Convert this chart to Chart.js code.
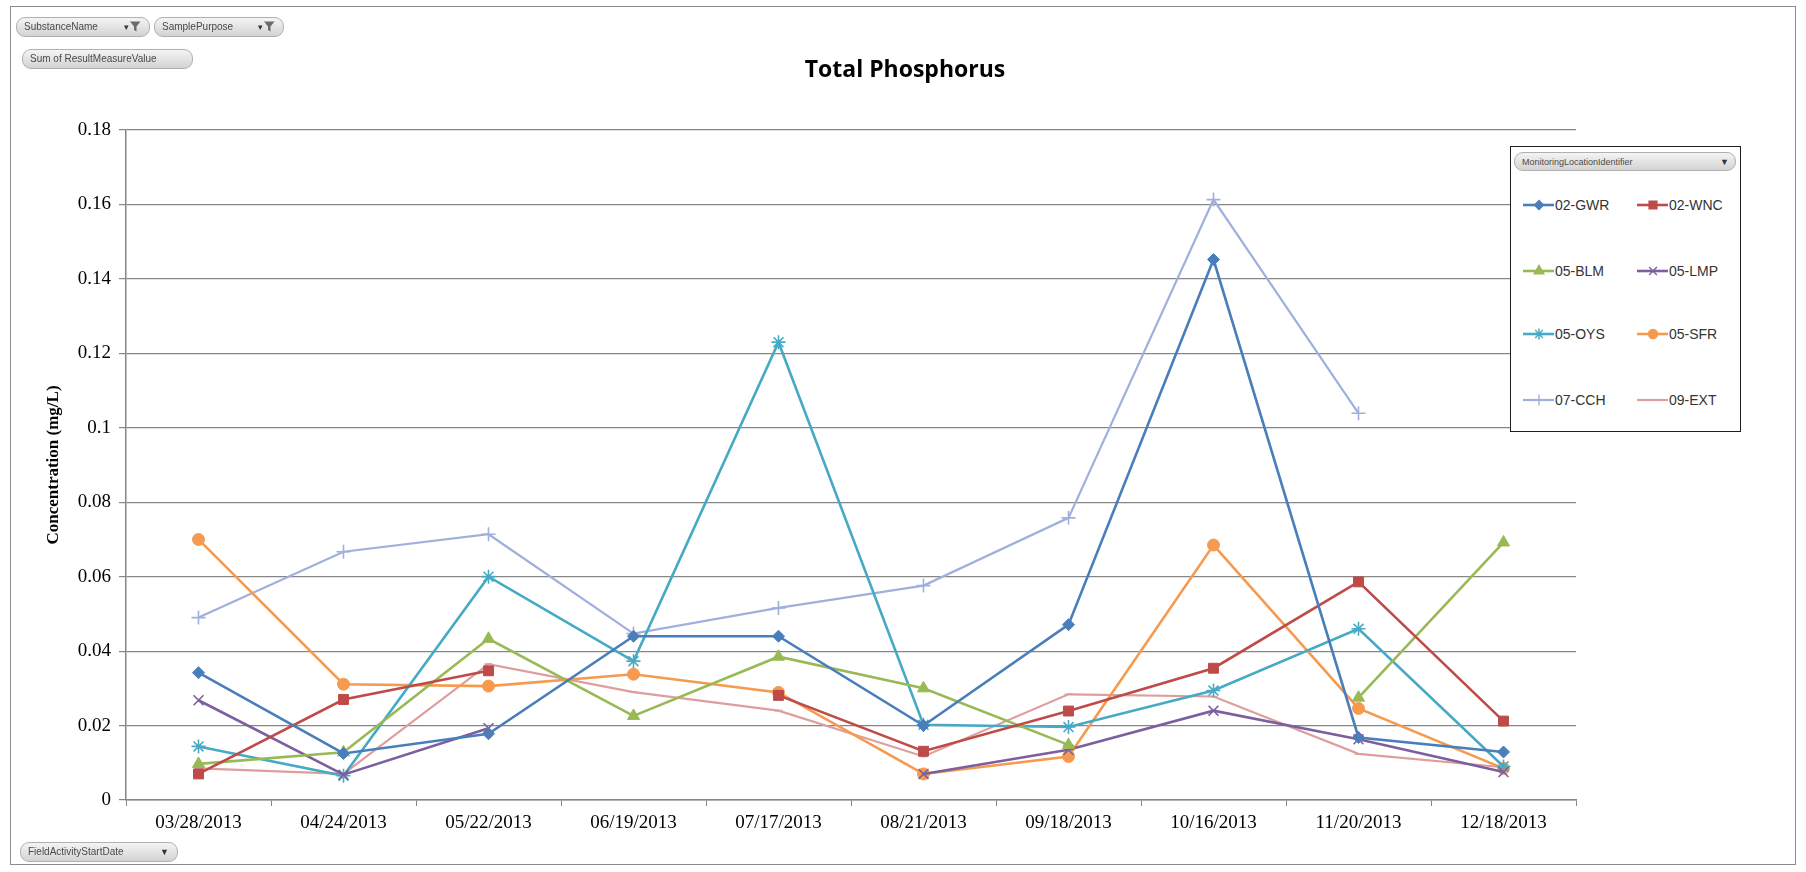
<!DOCTYPE html>
<html>
<head>
<meta charset="utf-8">
<title>Total Phosphorus</title>
<script src="https://cdn.jsdelivr.net/npm/chart.js@4.4.1/dist/chart.umd.min.js"></script>
<style>
  html, body { margin: 0; padding: 0; background: #fff; }
  #wrap { position: relative; width: 1806px; height: 872px; overflow: hidden; }
  #frame { position: absolute; left: 10px; top: 6px; width: 1786px; height: 859px; border: 1px solid #8c8c8c; box-sizing: border-box; }
  #chart { position: absolute; left: 0; top: 0; }
  .pill {
    position: absolute; height: 20px; box-sizing: border-box;
    border: 1px solid #b0b0b0; border-radius: 9px;
    background: linear-gradient(#f4f4f4, #d3d3d3);
    font: 10px "Liberation Sans", Arial, sans-serif; color: #4a4a4a;
    line-height: 18px; padding-left: 7px; white-space: nowrap;
  }
  .pill .ico { position: absolute; right: 8px; top: 3px; font-size: 9px; line-height: 12px; color: #333; }
  .pill svg { vertical-align: -2px; margin-left: 1px; }
  #title {
    position: absolute; left: 705px; width: 400px; top: 52px; text-align: center;
    font: bold 23px "Open Sans", "Noto Sans", sans-serif; color: #000;
  }
  #legend {
    position: absolute; left: 1510px; top: 146px; width: 231px; height: 286px;
    background: #fff; border: 1.5px solid #1e1e1e; box-sizing: border-box;
  }
  #legend .pill { left: 3px; top: 5px; width: 222px; height: 19px; font-size: 9px; }
  .item { position: absolute; height: 18px; font: 14px "Liberation Sans", Arial, sans-serif; color: #333; white-space: nowrap; }
  .item canvas { position: absolute; left: 0; top: 0; }
  .item span { position: absolute; left: 32px; top: 0; line-height: 18px; }
</style>
</head>
<body>
<div id="wrap">
  <div id="frame"></div>
  <canvas id="chart" width="1806" height="872"></canvas>
  <div class="pill" style="left:16px;top:17px;width:134px;">SubstanceName<span class="ico">▾<svg width="11" height="11" viewBox="0 0 11 11"><path d="M0 0.5 H10.5 L6.5 5.5 V10.5 L4 9 V5.5 Z" fill="#6b6b6b"/></svg></span></div>
  <div class="pill" style="left:154px;top:17px;width:130px;">SamplePurpose<span class="ico">▾<svg width="11" height="11" viewBox="0 0 11 11"><path d="M0 0.5 H10.5 L6.5 5.5 V10.5 L4 9 V5.5 Z" fill="#6b6b6b"/></svg></span></div>
  <div class="pill" style="left:22px;top:49px;width:171px;">Sum of ResultMeasureValue</div>
  <div class="pill" style="left:20px;top:842px;width:158px;">FieldActivityStartDate<span class="ico">▼</span></div>
  <div id="title">Total Phosphorus</div>
  <div id="legend">
    <div class="pill">MonitoringLocationIdentifier<span class="ico" style="right:6px">▼</span></div>
  </div>
</div>
<script>
const dates = ["03/28/2013", "04/24/2013", "05/22/2013", "06/19/2013", "07/17/2013",
               "08/21/2013", "09/18/2013", "10/16/2013", "11/20/2013", "12/18/2013"];

const gwr = [0.0342, 0.0125, 0.0178, 0.0440, 0.0440, 0.0200, 0.0471, 0.1452, 0.0168, 0.0129];
const wnc = [0.0070, 0.0270, 0.0347, null, 0.0281, 0.0131, 0.0239, 0.0354, 0.0586, 0.0212];
const blm = [0.0097, 0.0128, 0.0433, 0.0226, 0.0385, 0.0300, 0.0148, null, 0.0275, 0.0692];
const lmp = [0.0268, 0.0068, 0.0193, null, null, 0.0070, 0.0135, 0.0240, 0.0163, 0.0075];
const oys = [0.0144, 0.0065, 0.0600, 0.0373, 0.1230, 0.0202, 0.0196, 0.0294, 0.0460, 0.0090];
const sfr = [0.0700, 0.0311, 0.0306, 0.0338, 0.0289, 0.0070, 0.0117, 0.0685, 0.0246, 0.0085];
const cch = [0.0490, 0.0667, 0.0714, 0.0447, 0.0516, 0.0576, 0.0758, 0.1613, 0.1039, null];
const ext = [0.0085, 0.0070, 0.0365, 0.0290, 0.0240, 0.0117, 0.0284, 0.0278, 0.0124, 0.0088];

const yMin = 0, yMax = 0.18, yStep = 0.02;

const series = [
  { label: "02-GWR", data: gwr, color: "#4a7ebb", style: "rectRot", r: 6, w: 2.6 },
  { label: "02-WNC", data: wnc, color: "#be4b48", style: "rect", r: 7, w: 2.6 },
  { label: "05-BLM", data: blm, color: "#98b954", style: "triangle", r: 7, w: 2.6 },
  { label: "05-LMP", data: lmp, color: "#7d5fa0", style: "crossRot", r: 7, w: 2.6 },
  { label: "05-OYS", data: oys, color: "#46aac5", style: "star", r: 7, w: 2.6 },
  { label: "05-SFR", data: sfr, color: "#f59a4e", style: "circle", r: 6, w: 2.6 },
  { label: "07-CCH", data: cch, color: "#a0b0dc", style: "cross", r: 7, w: 2.2 },
  { label: "09-EXT", data: ext, color: "#de9e9e", style: "line", r: 4, w: 2.2 },
];

const axisGrey = "#868686";

new Chart(document.getElementById("chart").getContext("2d"), {
  type: "line",
  data: {
    labels: dates,
    datasets: series.map((s) => ({
      label: s.label,
      data: s.data,
      borderColor: s.color,
      backgroundColor: s.color,
      borderWidth: s.w,
      pointStyle: s.style,
      pointRadius: s.r,
      pointBorderWidth: ["crossRot", "cross", "star", "line"].includes(s.style) ? 1.6 : 1,
      tension: 0,
      spanGaps: false,
    })),
  },
  options: {
    responsive: false,
    animation: false,
    devicePixelRatio: 1,
    layout: { padding: { left: 43, top: 130, right: 230, bottom: 32 } },
    plugins: { legend: { display: false }, tooltip: { enabled: false }, title: { display: false } },
    scales: {
      x: {
        type: "category",
        offset: true,
        afterFit: (scale) => { scale.height = 40; },
        grid: { display: true, drawOnChartArea: false, offset: true, tickLength: 6, color: axisGrey, lineWidth: 1 },
        border: { color: axisGrey, width: 1.5 },
        ticks: { color: "#000", padding: 6, maxRotation: 0, font: { family: "'Liberation Serif', 'Times New Roman', serif", size: 19 } },
      },
      y: {
        min: yMin,
        max: yMax,
        afterFit: (scale) => { scale.width = 83; },
        grid: { color: axisGrey, lineWidth: 1.2, tickLength: 7 },
        border: { color: axisGrey, width: 1.5 },
        ticks: {
          stepSize: yStep,
          color: "#000",
          padding: 8,
          font: { family: "'Liberation Serif', 'Times New Roman', serif", size: 19 },
          callback: (v) => String(parseFloat(Number(v).toFixed(2))),
        },
        title: {
          display: true,
          text: "Concentration (mg/L)",
          color: "#000",
          padding: 0,
          font: { family: "'Liberation Serif', 'Times New Roman', serif", size: 17, weight: "bold" },
        },
      },
    },
  },
});

// legend built from the same series list
const legend = document.getElementById("legend");
const colX = [12, 126];
const rowY = [49, 115, 178, 244];
series.forEach((s, i) => {
  const item = document.createElement("div");
  item.className = "item";
  item.style.left = colX[i % 2] + "px";
  item.style.top = rowY[Math.floor(i / 2)] + "px";
  const cv = document.createElement("canvas");
  cv.width = 32; cv.height = 18;
  const ctx = cv.getContext("2d");
  ctx.strokeStyle = s.color;
  ctx.fillStyle = s.color;
  ctx.lineWidth = s.w;
  ctx.beginPath(); ctx.moveTo(0, 9); ctx.lineTo(31, 9); ctx.stroke();
  if (Chart.helpers && Chart.helpers.drawPoint && s.style !== "line") {
    ctx.lineWidth = 1.4;
    Chart.helpers.drawPoint(ctx, { pointStyle: s.style, radius: s.r - 1.5, borderWidth: 1.4, rotation: 0 }, 16, 9);
  }
  const t = document.createElement("span");
  t.textContent = s.label;
  item.appendChild(cv);
  item.appendChild(t);
  legend.appendChild(item);
});
</script>
</body>
</html>
